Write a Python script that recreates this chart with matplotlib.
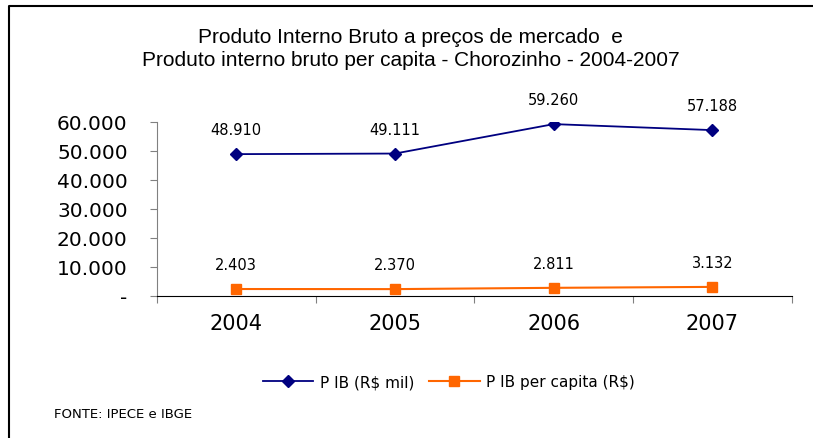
import matplotlib.pyplot as plt
from matplotlib.lines import Line2D

anos = ["2004", "2005", "2006", "2007"]
pib = [48910, 49111, 59260, 57188]
pib_per_capita = [2403, 2370, 2811, 3132]
yticks = [0, 10000, 20000, 30000, 40000, 50000, 60000]


def fmt(v):
    if v == 0:
        return "-"
    return f"{v:,.0f}".replace(",", ".")


fig = plt.figure(figsize=(8.13, 4.39), dpi=100)
ax = fig.add_axes([0.193, 0.3235, 0.781, 0.3964])

x = list(range(len(anos)))
ax.plot(x, pib, color="#000080", marker="D", markersize=6.5, lw=1.3)
ax.plot(x, pib_per_capita, color="#FF6600", marker="s", markersize=7, lw=1.5)

for serie in (pib, pib_per_capita):
    for xi, v in zip(x, serie):
        ax.annotate(fmt(v), (xi, v), xytext=(0, 12), textcoords="offset points",
                    ha="center", va="bottom", fontsize=10.5)

ax.set_xlim(-0.5, len(anos) - 0.5)
ax.set_ylim(0, 60000)
ax.set_yticks(yticks)
ax.set_yticklabels([fmt(v) for v in yticks], fontsize=14.5)
ax.set_xticks([i - 0.5 for i in range(len(anos) + 1)])
ax.set_xticklabels([])
ax.set_xticks(x, minor=True)
ax.set_xticklabels(anos, minor=True, fontsize=15)
ax.tick_params(axis="x", which="minor", length=0, pad=12)
ax.tick_params(axis="x", which="major", length=5, color="#808080")
ax.tick_params(axis="y", length=5, color="#808080", pad=16)
for s in ["top", "right"]:
    ax.spines[s].set_visible(False)
ax.spines["left"].set_color("#808080")
ax.spines["bottom"].set_color("black")

fig.text(0.505, 0.915, "Produto Interno Bruto a preços de mercado  e",
         ha="center", va="center", fontsize=15, family="Liberation Sans")
fig.text(0.505, 0.862, "Produto interno bruto per capita - Chorozinho - 2004-2007",
         ha="center", va="center", fontsize=15, family="Liberation Sans")

handles = [
    Line2D([], [], color="#000080", marker="D", markersize=6.5, lw=1.3),
    Line2D([], [], color="#FF6600", marker="s", markersize=7, lw=1.5),
]
fig.legend(handles, ["P IB (R$ mil)", "P IB per capita (R$)"],
           loc="center", bbox_to_anchor=(0.552, 0.128), ncol=2, frameon=False,
           fontsize=11, handlelength=3.3, columnspacing=1.0, handletextpad=0.4)

fig.text(0.066, 0.055, "FONTE: IPECE e IBGE", fontsize=9.5, va="center")

# moldura: linha no topo e na esquerda
fig.add_artist(Line2D([9 / 813, 9 / 813, 1], [0, 1 - 7 / 439, 1 - 7 / 439],
                      transform=fig.transFigure, color="black", lw=1.5))

fig.savefig("out.png", dpi=100)
